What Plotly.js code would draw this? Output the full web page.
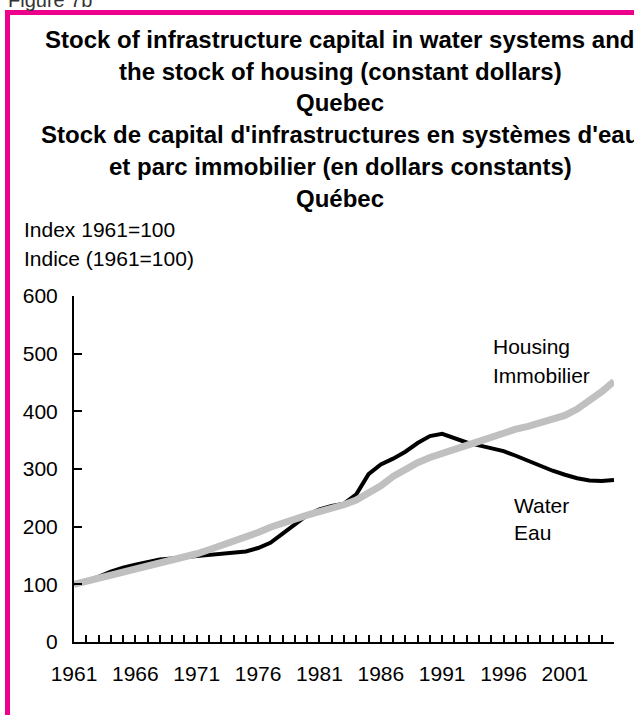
<!DOCTYPE html>
<html>
<head>
<meta charset="utf-8">
<script src="https://cdn.plot.ly/plotly-3.0.1.min.js"></script>
<style>
html,body{margin:0;padding:0;background:#fff;}
#chart{width:634px;height:715px;}
</style>
</head>
<body>
<div id="chart"></div>
<script>
// ---- data ----
const years = [1961,1962,1963,1964,1965,1966,1967,1968,1969,1970,
               1971,1972,1973,1974,1975,1976,1977,1978,1979,1980,
               1981,1982,1983,1984,1985,1986,1987,1988,1989,1990,
               1991,1992,1993,1994,1995,1996,1997,1998,1999,2000,
               2001,2002,2003,2004,2005];
const housing = [100,105,111,117,122,127,131,135,141,147,
                 153,160,167,174,182,190,199,207,214,220,
                 226,231,238,246,257,271,287,300,311,320,
                 328,335,341,348,356,362,369,374,380,386,
                 393,404,418,434,452];
const water = [100,106,113,122,129,134,139,143,145,147,
               148,150,153,155,157,163,172,188,205,220,
               230,236,240,256,291,308,318,330,345,357,
               361,354,346,341,336,331,323,314,305,297,
               290,284,280,279,281];
const xTickVals = [1961,1966,1971,1976,1981,1986,1991,1996,2001];
const xTickText = ['1961','1966','1971','1976','1981','1986','1991','1996','2001'];
const titleLines = [
  'Stock of infrastructure capital in water systems and',
  'the stock of housing (constant dollars)',
  'Quebec',
  "Stock de capital d'infrastructures en systèmes d'eau",
  'et parc immobilier (en dollars constants)',
  'Québec'
];
const unitLines = ['Index 1961=100', 'Indice (1961=100)'];
const housingLabel = ['Housing', 'Immobilier'];
const waterLabel = ['Water', 'Eau'];

// ---- geometry helpers ----
const W = 634, H = 715;
const M = {l:74, r:20, t:296, b:73};
const PW = W - M.l - M.r, PH = H - M.t - M.b;
const px = v => (v - M.l) / PW;
const py = v => (H - M.b - v) / PH;
const FONT = '"Liberation Sans", Arial, Helvetica, sans-serif';

const annotations = [];
titleLines.forEach((t, i) => {
  annotations.push({text: '<b>' + t + '</b>', xref:'paper', yref:'paper',
    x: px(340), y: py(39.5 + i*31.7), xanchor:'center', yanchor:'middle',
    showarrow:false, font:{family:FONT, size:24, color:'#000'}});
});
unitLines.forEach((t, i) => {
  annotations.push({text: t, xref:'paper', yref:'paper',
    x: px(22), y: py(229.2 + i*29.7), xanchor:'left', yanchor:'middle',
    showarrow:false, font:{family:FONT, size:21, color:'#000'}});
});
housingLabel.forEach((t, i) => {
  annotations.push({text: t, xref:'paper', yref:'paper',
    x: px(491), y: py(346.2 + i*29.5), xanchor:'left', yanchor:'middle',
    showarrow:false, font:{family:FONT, size:21, color:'#000'}});
});
waterLabel.forEach((t, i) => {
  annotations.push({text: t, xref:'paper', yref:'paper',
    x: px(512), y: py(505 + i*27.5), xanchor:'left', yanchor:'middle',
    showarrow:false, font:{family:FONT, size:21, color:'#000'}});
});
annotations.push({text: 'Figure 7b', xref:'paper', yref:'paper',
  x: px(6), y: py(-0.5), xanchor:'left', yanchor:'middle',
  showarrow:false, font:{family:FONT, size:20, color:'#333'}});

const traces = [
  {x: years, y: water, type:'scatter', mode:'lines', name:'Water / Eau',
   line:{color:'#000000', width:4}, hoverinfo:'x+y'},
  {x: years, y: housing, type:'scatter', mode:'lines', name:'Housing / Immobilier',
   line:{color:'#c0c0c0', width:7}, hoverinfo:'x+y'}
];

const layout = {
  width: W, height: H,
  margin: M,
  paper_bgcolor:'#ffffff', plot_bgcolor:'#ffffff',
  showlegend:false,
  font:{family:FONT, size:21, color:'#000'},
  xaxis:{
    range:[1961, 2005], showgrid:false, zeroline:false,
    showline:true, linecolor:'#000', linewidth:2,
    tickmode:'array', tickvals:xTickVals, ticktext:xTickText,
    ticks:'inside', ticklen:7, tickwidth:2, tickcolor:'#000',
    minor:{dtick:1, tick0:1961, ticks:'inside', ticklen:7, tickwidth:2, tickcolor:'#000', showgrid:false},
    tickfont:{family:FONT, size:21, color:'#000'},
    ticklabelstandoff:12
  },
  yaxis:{
    range:[0, 600], dtick:100, tick0:0, showgrid:false, zeroline:false,
    showline:true, linecolor:'#000', linewidth:2,
    ticks:'inside', ticklen:8, tickwidth:2, tickcolor:'#000',
    tickfont:{family:FONT, size:21, color:'#000'},
    ticklabelstandoff:10
  },
  shapes:[
    {type:'rect', xref:'paper', yref:'paper',
     x0: px(7.5), x1: px(700), y0: py(800), y1: py(12.5),
     line:{color:'#ec008c', width:5}, fillcolor:'rgba(0,0,0,0)', layer:'above'}
  ],
  annotations: annotations
};

Plotly.newPlot('chart', traces, layout, {displayModeBar:false, staticPlot:true});
</script>
</body>
</html>
